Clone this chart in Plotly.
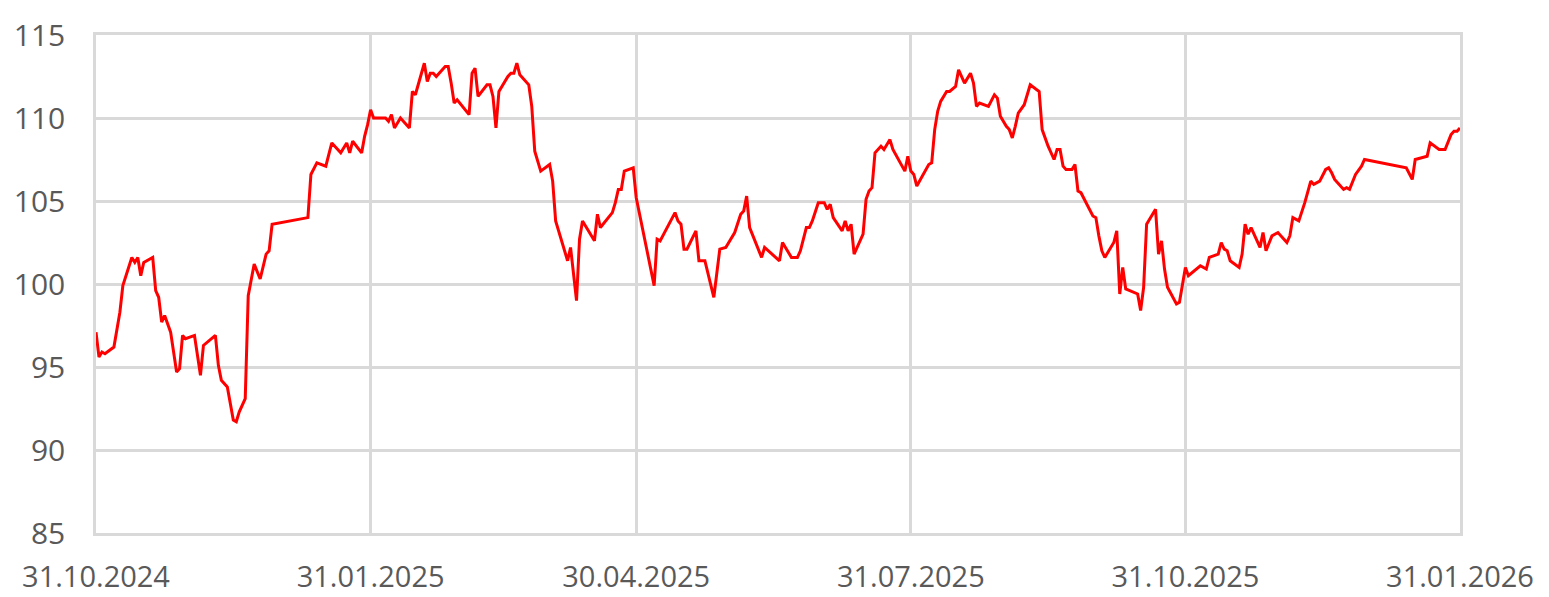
import plotly.graph_objects as go

dates = [
    "2024-10-31", "2024-11-01", "2024-11-02", "2024-11-03", "2024-11-06", "2024-11-07", "2024-11-08", "2024-11-09",
    "2024-11-12", "2024-11-13", "2024-11-14", "2024-11-15", "2024-11-16", "2024-11-19", "2024-11-20", "2024-11-21",
    "2024-11-22", "2024-11-23", "2024-11-25", "2024-11-27", "2024-11-28", "2024-11-29", "2024-11-30",
    "2024-12-03", "2024-12-04", "2024-12-05", "2024-12-06", "2024-12-10", "2024-12-11", "2024-12-12", "2024-12-14",
    "2024-12-16", "2024-12-17", "2024-12-18", "2024-12-20", "2024-12-21", "2024-12-23", "2024-12-25", "2024-12-27",
    "2024-12-28", "2024-12-29",
    "2025-01-10", "2025-01-11", "2025-01-13", "2025-01-16", "2025-01-18", "2025-01-21", "2025-01-23", "2025-01-24",
    "2025-01-25", "2025-01-28", "2025-01-29", "2025-01-30", "2025-01-31",
    "2025-02-01", "2025-02-05", "2025-02-06", "2025-02-07", "2025-02-08", "2025-02-10", "2025-02-13", "2025-02-14",
    "2025-02-15", "2025-02-18", "2025-02-19", "2025-02-20", "2025-02-21", "2025-02-22", "2025-02-25", "2025-02-26",
    "2025-02-27", "2025-02-28",
    "2025-03-01", "2025-03-05", "2025-03-06", "2025-03-07", "2025-03-08", "2025-03-11", "2025-03-12", "2025-03-13",
    "2025-03-14", "2025-03-15", "2025-03-18", "2025-03-19", "2025-03-20", "2025-03-21", "2025-03-22", "2025-03-25",
    "2025-03-26", "2025-03-27", "2025-03-29",
    "2025-04-01", "2025-04-02", "2025-04-03", "2025-04-07", "2025-04-08", "2025-04-10", "2025-04-11", "2025-04-12",
    "2025-04-16", "2025-04-17", "2025-04-18", "2025-04-22", "2025-04-23", "2025-04-24", "2025-04-25", "2025-04-26",
    "2025-04-29", "2025-04-30",
    "2025-05-06", "2025-05-07", "2025-05-08", "2025-05-13", "2025-05-14", "2025-05-15", "2025-05-16", "2025-05-17",
    "2025-05-20", "2025-05-21", "2025-05-23", "2025-05-26", "2025-05-28", "2025-05-30", "2025-05-31",
    "2025-06-02", "2025-06-04", "2025-06-05", "2025-06-06", "2025-06-07", "2025-06-11", "2025-06-12", "2025-06-17",
    "2025-06-18", "2025-06-19", "2025-06-21", "2025-06-23", "2025-06-24", "2025-06-26", "2025-06-27", "2025-06-28",
    "2025-06-30",
    "2025-07-02", "2025-07-03", "2025-07-04", "2025-07-05", "2025-07-08", "2025-07-09", "2025-07-10", "2025-07-11",
    "2025-07-12", "2025-07-15", "2025-07-16", "2025-07-17", "2025-07-18", "2025-07-19", "2025-07-21", "2025-07-22",
    "2025-07-24", "2025-07-25", "2025-07-29", "2025-07-30", "2025-07-31",
    "2025-08-01", "2025-08-02", "2025-08-05", "2025-08-06", "2025-08-07", "2025-08-08", "2025-08-09", "2025-08-10",
    "2025-08-12", "2025-08-13", "2025-08-15", "2025-08-16", "2025-08-18", "2025-08-20", "2025-08-21", "2025-08-22",
    "2025-08-23", "2025-08-26", "2025-08-28", "2025-08-29", "2025-08-30",
    "2025-09-01", "2025-09-02", "2025-09-03", "2025-09-04", "2025-09-05", "2025-09-07", "2025-09-09", "2025-09-12",
    "2025-09-13", "2025-09-15", "2025-09-17", "2025-09-18", "2025-09-19", "2025-09-20", "2025-09-21", "2025-09-23",
    "2025-09-24", "2025-09-25", "2025-09-26", "2025-09-30",
    "2025-10-01", "2025-10-02", "2025-10-03", "2025-10-04", "2025-10-07", "2025-10-08", "2025-10-09", "2025-10-10",
    "2025-10-11", "2025-10-15", "2025-10-16", "2025-10-17", "2025-10-18", "2025-10-21", "2025-10-22", "2025-10-23",
    "2025-10-24", "2025-10-25", "2025-10-28", "2025-10-29", "2025-10-30", "2025-10-31",
    "2025-11-01", "2025-11-05", "2025-11-07", "2025-11-08", "2025-11-11", "2025-11-12", "2025-11-13", "2025-11-14",
    "2025-11-15", "2025-11-18", "2025-11-19", "2025-11-20", "2025-11-21", "2025-11-22", "2025-11-25", "2025-11-26",
    "2025-11-27", "2025-11-29",
    "2025-12-01", "2025-12-04", "2025-12-05", "2025-12-06", "2025-12-08", "2025-12-10", "2025-12-12", "2025-12-13",
    "2025-12-15", "2025-12-17", "2025-12-18", "2025-12-19", "2025-12-20", "2025-12-23", "2025-12-24", "2025-12-25",
    "2025-12-27", "2025-12-29", "2025-12-30",
    "2026-01-13", "2026-01-15", "2026-01-16", "2026-01-20", "2026-01-21", "2026-01-24", "2026-01-26", "2026-01-28",
    "2026-01-29", "2026-01-30", "2026-01-31",
]

values = [
    97.1, 95.6, 95.9, 95.8, 96.2, 97.2, 98.3, 99.9,
    101.6, 101.3, 101.6, 100.5, 101.3, 101.6, 99.6, 99.2,
    97.7, 98.1, 97.1, 94.7, 94.9, 96.9, 96.7,
    96.9, 95.6, 94.5, 96.3, 96.9, 95.1, 94.2, 93.8,
    91.8, 91.7, 92.3, 93.1, 99.3, 101.2, 100.3, 101.8,
    102.0, 103.6,
    104.0, 106.6, 107.3, 107.1, 108.5, 107.9, 108.5, 107.9,
    108.6, 107.9, 108.9, 109.6, 110.5,
    110.0, 110.0, 109.8, 110.2, 109.4, 110.0, 109.4, 111.6,
    111.4, 113.3, 112.2, 112.7, 112.7, 112.5, 113.1, 113.1,
    112.1, 110.9,
    111.1, 110.2, 112.7, 113.0, 111.3, 112.0, 112.0, 111.3,
    109.4, 111.6, 112.5, 112.7, 112.7, 113.3, 112.6, 112.0,
    110.7, 108.0, 106.8,
    107.2, 106.2, 103.8, 101.4, 102.2, 99.0, 102.7, 103.8,
    102.6, 104.2, 103.4, 104.3, 104.9, 105.7, 105.7, 106.8,
    107.0, 105.2,
    99.9, 102.7, 102.6, 104.3, 103.8, 103.6, 102.1, 102.1,
    103.2, 101.4, 101.4, 99.2, 102.1, 102.2, 102.5,
    103.1, 104.2, 104.4, 105.3, 103.4, 101.6, 102.2, 101.4,
    102.5, 102.2, 101.6, 101.6, 102.0, 103.4, 103.4, 103.8,
    104.9,
    104.9, 104.5, 104.8, 104.0, 103.2, 103.8, 103.2, 103.6,
    101.8, 103.0, 105.1, 105.6, 105.8, 107.9, 108.3, 108.1,
    108.7, 108.1, 106.8, 107.7, 106.8,
    106.6, 105.9, 106.9, 107.2, 107.3, 109.3, 110.4, 111.0,
    111.6, 111.6, 111.9, 112.9, 112.1, 112.7, 112.1, 110.7,
    110.9, 110.7, 111.4, 111.2, 110.1,
    109.5, 109.3, 108.8, 109.5, 110.3, 110.8, 112.0, 111.6,
    109.3, 108.3, 107.5, 108.1, 108.1, 107.1, 106.9, 106.9,
    107.2, 105.6, 105.5, 104.1,
    104.0, 102.9, 102.0, 101.6, 102.5, 103.2, 99.4, 101.0,
    99.7, 99.4, 98.4, 99.8, 103.6, 104.5, 101.8, 102.6,
    100.9, 99.8, 98.8, 98.9, 100.1, 101.0,
    100.5, 101.1, 100.9, 101.6, 101.8, 102.5, 102.1, 102.0,
    101.4, 101.0, 101.8, 103.6, 103.0, 103.4, 102.2, 103.1,
    102.0, 102.9,
    103.1, 102.5, 102.9, 104.0, 103.8, 104.9, 106.2, 106.0,
    106.2, 106.9, 107.0, 106.7, 106.3, 105.7, 105.8, 105.7,
    106.6, 107.1, 107.5,
    107.0, 106.3, 107.5, 107.7, 108.5, 108.1, 108.1, 109.0,
    109.2, 109.2, 109.4,
]

x_tick_dates = ["2024-10-31", "2025-01-31", "2025-04-30", "2025-07-31", "2025-10-31", "2026-01-31"]
x_tick_labels = ["31.10.2024", "31.01.2025", "30.04.2025", "31.07.2025", "31.10.2025", "31.01.2026"]
y_ticks = [85, 90, 95, 100, 105, 110, 115]

GRID = "#d9d9d9"
TEXT = "#595959"
FONT = "Open Sans"

fig = go.Figure()
fig.add_trace(go.Scatter(
    x=dates, y=values, mode="lines",
    line=dict(color="#ff0000", width=3),
    showlegend=False, hoverinfo="skip",
))

fig.update_layout(
    width=1549, height=597,
    margin=dict(l=96, r=89, t=35, b=64),
    paper_bgcolor="white", plot_bgcolor="white",
    font=dict(family=FONT, size=30, color=TEXT),
)
fig.update_xaxes(
    type="date", automargin=False,
    range=[x_tick_dates[0], x_tick_dates[-1]],
    tickvals=x_tick_dates, ticktext=x_tick_labels,
    tickfont=dict(size=29),
    showgrid=True, gridcolor=GRID, gridwidth=2.5,
    showline=True, linecolor=GRID, linewidth=2.5, mirror=True,
    ticks="", ticklabelstandoff=16,
    zeroline=False,
)
fig.update_yaxes(
    automargin=False,
    range=[85, 115], tickvals=y_ticks,
    showgrid=True, gridcolor=GRID, gridwidth=2.5,
    showline=True, linecolor=GRID, linewidth=2.5, mirror=True,
    ticks="", ticklabelstandoff=22,
    zeroline=False,
)

fig.write_html(
    "out.html",
    config={"displayModeBar": False},
    post_script="document.body.style.margin='0';document.body.style.overflow='hidden';",
)
